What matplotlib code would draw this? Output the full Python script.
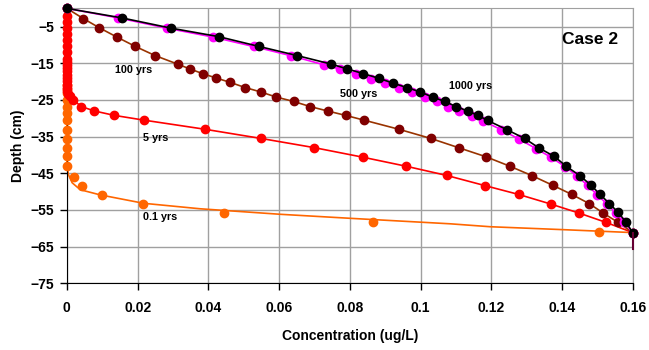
import matplotlib
matplotlib.use('Agg')
import matplotlib.pyplot as plt

plt.rcParams['font.family'] = ['Liberation Sans', 'DejaVu Sans']
plt.rcParams['font.weight'] = 'bold'

# 0.1 yrs - numerical points and smooth curve
x_01_pts = [0, 0, 0, 0, 0, 0, 0, 0, 0, 0, 0, 0, 0.0019, 0.0044, 0.0099, 0.0214, 0.0445, 0.0865, 0.1505]
y_01_pts = [-21.0, -22.0, -23.1, -24.9, -26.8, -28.6, -30.4, -33.1, -35.7, -38.1, -40.4, -43.0,
            -45.9, -48.4, -50.9, -53.4, -55.9, -58.4, -61.0]
x_01_line = [0, 0, 0.0005, 0.0015, 0.0038, 0.0094, 0.0217, 0.0377, 0.0603, 0.0801, 0.1084, 0.1197, 0.1404, 0.16]
y_01_line = [-20.5, -43.0, -45.5, -47.6, -49.5, -50.9, -53.2, -54.7, -56.2, -57.3, -58.8, -59.6, -60.4, -61.2]

# 5 yrs
x_5 = [0, 0, 0, 0, 0, 0, 0, 0, 0, 0, 0, 0, 0, 0, 0, 0, 0, 0, 0, 0.0004, 0.0010,
       0.0017, 0.0041, 0.0078, 0.0134, 0.0218, 0.0391, 0.0549, 0.0699, 0.0836, 0.0960,
       0.1074, 0.1183, 0.1278, 0.1368, 0.1449, 0.1524, 0.16]
y_5 = [0, -2.2, -3.7, -5.4, -7.0, -8.7, -10.4, -12.0, -13.7, -14.6, -15.4, -16.3, -17.2,
       -18.1, -19.0, -19.9, -20.8, -21.7, -22.5, -23.3, -24.0,
       -24.9, -26.8, -28.0, -29.2, -30.5, -33.0, -35.5, -38.0, -40.6, -43.1,
       -45.6, -48.4, -50.8, -53.4, -55.9, -58.4, -61.2]

# 100 yrs
x_100 = [0, 0.0047, 0.0092, 0.0141, 0.0194, 0.0250, 0.0313, 0.0347, 0.0384, 0.0422, 0.0462,
         0.0504, 0.0548, 0.0592, 0.0641, 0.0688, 0.0737, 0.0788, 0.0840, 0.0939, 0.1029,
         0.1110, 0.1185, 0.1253, 0.1316, 0.1374, 0.1428, 0.1477, 0.1517, 0.1558, 0.16]
y_100 = [0, -2.8, -5.3, -7.8, -10.4, -12.9, -15.2, -16.5, -17.8, -19.0, -20.2,
         -21.6, -22.8, -24.2, -25.4, -26.8, -28.0, -29.2, -30.5, -33.0, -35.5,
         -38.1, -40.5, -43.1, -45.7, -48.3, -50.8, -53.3, -55.9, -58.4, -61.2]

# 500 yrs
x_500 = [0, 0.0146, 0.0283, 0.0412, 0.0528, 0.0633, 0.0727, 0.0773, 0.0817, 0.0860, 0.0900,
         0.0940, 0.0977, 0.1013, 0.1046, 0.1079, 0.1110, 0.1145, 0.1176, 0.1228, 0.1279,
         0.1327, 0.1368, 0.1409, 0.1442, 0.1472, 0.1500, 0.1527, 0.1552, 0.1576, 0.16]
y_500 = [0, -2.6, -5.4, -7.8, -10.4, -12.9, -15.4, -16.6, -17.8, -19.2, -20.4,
         -21.7, -22.8, -24.3, -25.4, -26.8, -28.1, -29.3, -30.7, -33.1, -35.7,
         -38.3, -40.6, -43.2, -45.7, -48.3, -50.9, -53.4, -55.9, -58.4, -61.2]

# 1000 yrs
x_1000 = [0, 0.0156, 0.0295, 0.0429, 0.0544, 0.0652, 0.0747, 0.0792, 0.0838, 0.0883, 0.0922,
          0.0961, 0.0999, 0.1034, 0.1068, 0.1101, 0.1133, 0.1162, 0.1190, 0.1244, 0.1294,
          0.1335, 0.1378, 0.1412, 0.1451, 0.1481, 0.1508, 0.1534, 0.1559, 0.1581, 0.16]
y_1000 = [0, -2.6, -5.4, -7.7, -10.4, -12.9, -15.2, -16.5, -17.8, -19.1, -20.4,
          -21.6, -22.8, -24.2, -25.4, -26.8, -28.0, -29.2, -30.6, -33.1, -35.5,
          -38.1, -40.4, -43.1, -45.7, -48.2, -50.8, -53.3, -55.7, -58.4, -61.2]

# little tail at the bottom right
x_tail = [0.16, 0.16]
y_tail = [-61.2, -65.7]

x_ticks = [0, 0.02, 0.04, 0.06, 0.08, 0.1, 0.12, 0.14, 0.16]
x_ticklabels = ['0', '0.02', '0.04', '0.06', '0.08', '0.1', '0.12', '0.14', '0.16']
y_ticks = [-5, -15, -25, -35, -45, -55, -65, -75]

fig = plt.figure(figsize=(6.49, 3.5), dpi=100)
ax = fig.add_axes([0.103, 0.191, 0.872, 0.785])

ms = 6.0
lw = 1.2
ax.plot(x_01_line, y_01_line, color='#FF6600', lw=lw, zorder=2, clip_on=False)
ax.plot(x_01_pts, y_01_pts, 'o', color='#FF6600', ms=ms, zorder=3, clip_on=False)
ax.plot(x_5, y_5, '-o', color='#FF0000', lw=lw, ms=ms, zorder=4, clip_on=False)
ax.plot(x_100, y_100, '-', color='#993300', lw=lw, zorder=5, clip_on=False)
ax.plot(x_100, y_100, 'o', color='#800000', ms=ms, zorder=5, clip_on=False)
ax.plot(x_500, y_500, '-o', color='#FF00FF', lw=lw, ms=ms, zorder=6, clip_on=False)
ax.plot(x_1000, y_1000, '-o', color='black', lw=lw, ms=ms, zorder=7, clip_on=False)
ax.plot(x_tail, y_tail, color='#660033', lw=1.5, zorder=7, clip_on=False)

ax.set_xlim(0, 0.16)
ax.set_ylim(-75, 0)
ax.set_xticks(x_ticks)
ax.set_xticklabels(x_ticklabels)
ax.set_yticks(y_ticks)
ax.grid(True, color='#a0a0a0', lw=1.0)
ax.set_axisbelow(True)
for s in ['top', 'right']:
    ax.spines[s].set_color('#a0a0a0')
for s in ['left', 'bottom']:
    ax.spines[s].set_color('black')
ax.tick_params(direction='out', length=5, width=1, labelsize=10)
ax.tick_params(axis='x', pad=8)
ax.tick_params(axis='y', pad=4)

ax.set_xlabel('Concentration (ug/L)', fontsize=10, fontweight='bold', labelpad=10)
ax.set_ylabel('Depth (cm)', fontsize=10, fontweight='bold')
ax.yaxis.set_label_coords(-0.074, 0.5)

lab = dict(fontsize=7.8, fontweight='bold', ha='center', va='center')
ax.text(0.0188, -16.8, '100 yrs', **lab)
ax.text(0.025, -35.3, '5 yrs', **lab)
ax.text(0.0826, -23.4, '500 yrs', **lab)
ax.text(0.1142, -21.3, '1000 yrs', **lab)
ax.text(0.0264, -57.0, '0.1 yrs', **lab)
ax.text(0.148, -8.6, 'Case 2', fontsize=12.5, fontweight='bold', ha='center', va='center')

fig.savefig('out.png', dpi=100)
